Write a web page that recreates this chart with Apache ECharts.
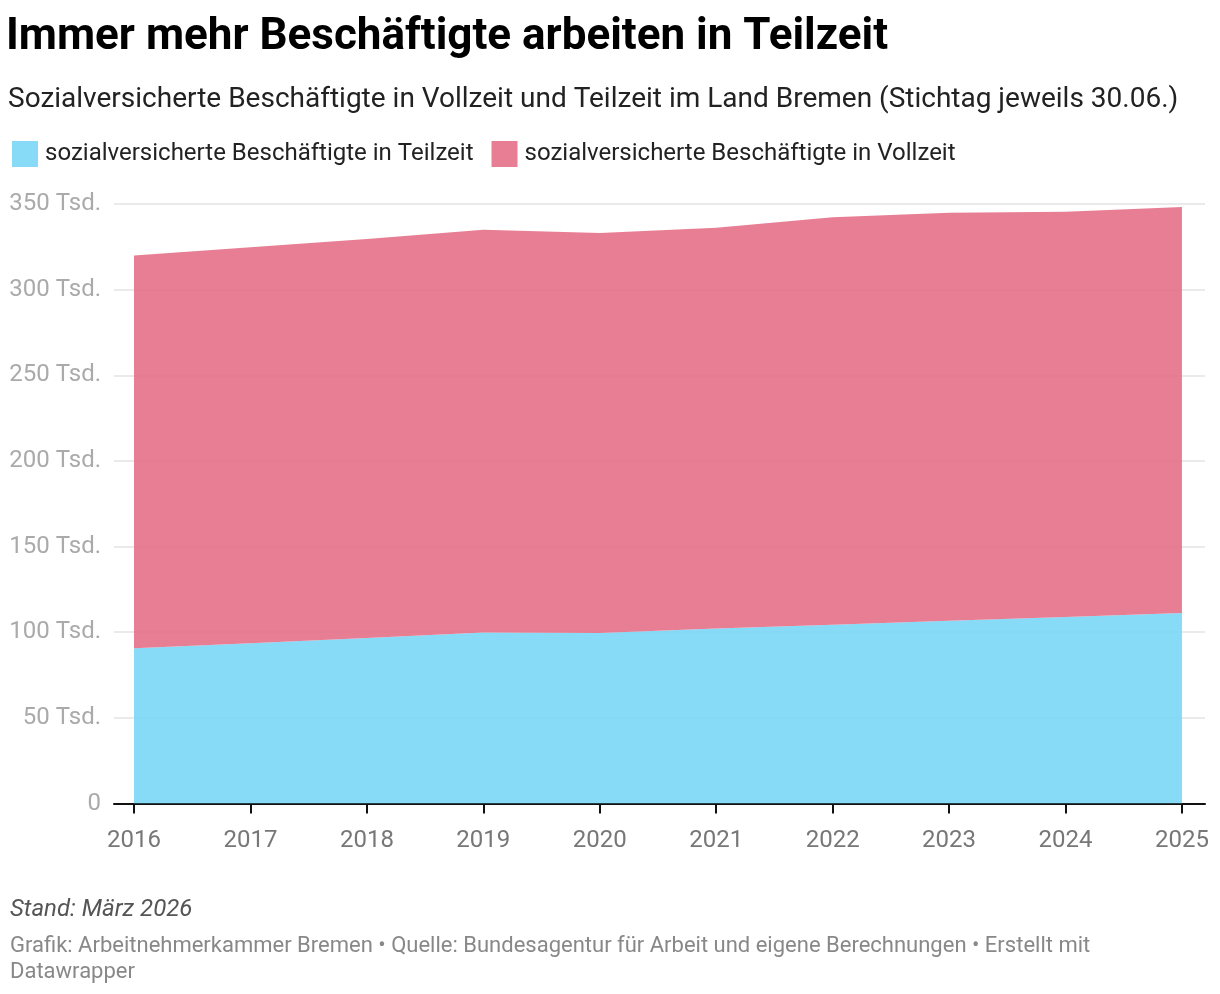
<!DOCTYPE html>
<html>
<head>
<meta charset="utf-8">
<script src="https://cdn.jsdelivr.net/npm/echarts@6/dist/echarts.min.js"></script>
<style>
html,body{margin:0;padding:0;background:#fff;}
#c{width:1220px;height:994px;}
</style>
</head>
<body>
<div id="c"></div>
<script>
var years = [2016, 2017, 2018, 2019, 2020, 2021, 2022, 2023, 2024, 2025];
var teilzeit = [90.6, 93.6, 96.6, 99.8, 99.5, 102.2, 104.4, 106.7, 108.9, 111.2];
var vollzeit = [229.4, 231.1, 232.9, 235.2, 233.5, 234.0, 237.8, 238.2, 236.6, 237.0];
var yTicks = [0, 50, 100, 150, 200, 250, 300, 350];
var seriesNames = ['sozialversicherte Beschäftigte in Teilzeit', 'sozialversicherte Beschäftigte in Vollzeit'];

var font = 'Roboto';
var chart = echarts.init(document.getElementById('c'), null, {renderer: 'canvas'});
// value first, year second, so the stacked dimension is the value
function pairs(vals){ return years.map(function(y,i){ return [vals[i], y]; }); }

chart.setOption({
  animation: false,
  backgroundColor: '#fff',
  textStyle: {fontFamily: font},
  title: [
    {text: 'Immer mehr Beschäftigte arbeiten in Teilzeit', left: 6, top: 16, padding: 0,
     textStyle: {fontFamily: font, fontSize: 44, fontWeight: 'bold', color: '#000'}},
    {text: 'Sozialversicherte Beschäftigte in Vollzeit und Teilzeit im Land Bremen (Stichtag jeweils 30.06.)', left: 8, top: 86, padding: 0,
     textStyle: {fontFamily: font, fontSize: 28, fontWeight: 'normal', color: '#222'}},
    {text: 'Stand: März 2026', left: 10, top: 898, padding: 0,
     textStyle: {fontFamily: font, fontSize: 24, fontStyle: 'italic', fontWeight: 'normal', color: '#555'}},
    {text: 'Grafik: Arbeitnehmerkammer Bremen • Quelle: Bundesagentur für Arbeit und eigene Berechnungen • Erstellt mit\nDatawrapper', left: 10, top: 933, padding: 0,
     textStyle: {fontFamily: font, fontSize: 22, fontWeight: 'normal', color: '#888', lineHeight: 26}}
  ],
  legend: {
    left: 12, top: 141, padding: 0, icon: 'rect', itemWidth: 26, itemHeight: 26, itemGap: 18,
    data: seriesNames,
    textStyle: {fontFamily: font, fontSize: 24, color: '#222', padding: [0,0,0,2]}
  },
  grid: {left: 114, right: 15, top: 204, bottom: 190.5},
  xAxis: {
    type: 'value', min: 2015.828, max: 2025.198,
    splitLine: {show: false},
    axisLine: {show: true, lineStyle: {color: '#111', width: 2}},
    axisTick: {show: true, customValues: years, length: 10, lineStyle: {color: '#111', width: 2}},
    axisLabel: {customValues: years, margin: 25, color: '#777', fontSize: 24, fontFamily: font,
      formatter: function(v){ return String(Math.round(v)); }}
  },
  yAxis: {
    type: 'value', min: 0, max: 350, interval: 50,
    axisLine: {show: false}, axisTick: {show: false},
    splitLine: {lineStyle: {color: '#e3e3e3', width: 1.5}},
    axisLabel: {color: '#aaa', fontSize: 24, fontFamily: font, margin: 13,
      formatter: function(v){ return v === 0 ? '0' : v + ' Tsd.'; }}
  },
  series: [
    {name: seriesNames[0], type: 'line', stack: 'total', data: pairs(teilzeit), encode: {x: 1, y: 0},
     showSymbol: false, symbol: 'none', lineStyle: {width: 0}, color: '#88dbf7',
     itemStyle: {color: '#88dbf7'},
     areaStyle: {color: 'rgb(123,215,246)', opacity: 0.9}},
    {name: seriesNames[1], type: 'line', stack: 'total', data: pairs(vollzeit), encode: {x: 1, y: 0},
     showSymbol: false, symbol: 'none', lineStyle: {width: 0}, color: '#e87e94',
     itemStyle: {color: '#e87e94'},
     areaStyle: {color: 'rgb(229,112,136)', opacity: 0.9}}
  ]
});
</script>
</body>
</html>
